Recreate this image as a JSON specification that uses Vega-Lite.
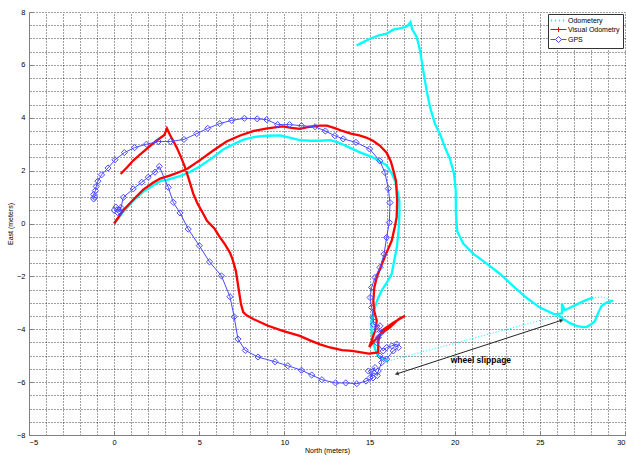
{
  "$schema": "https://vega.github.io/schema/vega-lite/v6.json",
  "width": 596,
  "height": 423,
  "autosize": {"type": "none"},
  "padding": {"left": 29, "top": 12, "right": 1, "bottom": 20},
  "background": "white",
  "datasets": {
    "track": [
      {"s":"Odometery","g":"a","k":"d","x":0,"y":0},
      {"s":"Odometery","g":"a","k":"d","x":0.54,"y":0.45},
      {"s":"Odometery","g":"a","k":"d","x":1.12,"y":0.85},
      {"s":"Odometery","g":"a","k":"d","x":1.71,"y":1.2},
      {"s":"Odometery","g":"a","k":"d","x":2.3,"y":1.45},
      {"s":"Odometery","g":"a","k":"d","x":2.7,"y":1.6},
      {"s":"Odometery","g":"a","k":"d","x":3.1,"y":1.65},
      {"s":"Odometery","g":"a","k":"d","x":3.8,"y":1.78},
      {"s":"Odometery","g":"a","k":"d","x":4.3,"y":1.9},
      {"s":"Odometery","g":"a","k":"d","x":5.0,"y":2.15},
      {"s":"Odometery","g":"a","k":"d","x":5.8,"y":2.5},
      {"s":"Odometery","g":"a","k":"d","x":6.4,"y":2.8},
      {"s":"Odometery","g":"a","k":"d","x":7.0,"y":3.0},
      {"s":"Odometery","g":"a","k":"d","x":7.6,"y":3.17},
      {"s":"Odometery","g":"a","k":"d","x":8.2,"y":3.27},
      {"s":"Odometery","g":"a","k":"d","x":9.0,"y":3.32},
      {"s":"Odometery","g":"a","k":"d","x":9.74,"y":3.33},
      {"s":"Odometery","g":"a","k":"d","x":10.3,"y":3.25},
      {"s":"Odometery","g":"a","k":"d","x":10.9,"y":3.15},
      {"s":"Odometery","g":"a","k":"d","x":11.5,"y":3.13},
      {"s":"Odometery","g":"a","k":"d","x":12.1,"y":3.13},
      {"s":"Odometery","g":"a","k":"d","x":12.7,"y":3.15},
      {"s":"Odometery","g":"a","k":"d","x":13.1,"y":3.08},
      {"s":"Odometery","g":"a","k":"d","x":13.4,"y":3.0},
      {"s":"Odometery","g":"a","k":"d","x":13.9,"y":2.85},
      {"s":"Odometery","g":"a","k":"d","x":14.4,"y":2.7},
      {"s":"Odometery","g":"a","k":"d","x":15.2,"y":2.5},
      {"s":"Odometery","g":"a","k":"d","x":15.6,"y":2.35},
      {"s":"Odometery","g":"a","k":"d","x":16.0,"y":2.2},
      {"s":"Odometery","g":"a","k":"d","x":16.3,"y":1.9},
      {"s":"Odometery","g":"a","k":"d","x":16.5,"y":1.6},
      {"s":"Odometery","g":"a","k":"d","x":16.65,"y":1.2},
      {"s":"Odometery","g":"a","k":"d","x":16.75,"y":0.86},
      {"s":"Odometery","g":"a","k":"d","x":16.75,"y":0.3},
      {"s":"Odometery","g":"a","k":"d","x":16.7,"y":-0.3},
      {"s":"Odometery","g":"a","k":"d","x":16.6,"y":-0.9},
      {"s":"Odometery","g":"a","k":"d","x":16.45,"y":-1.4},
      {"s":"Odometery","g":"a","k":"d","x":16.3,"y":-1.9},
      {"s":"Odometery","g":"a","k":"d","x":16.0,"y":-2.25},
      {"s":"Odometery","g":"a","k":"d","x":15.7,"y":-2.55},
      {"s":"Odometery","g":"a","k":"d","x":15.45,"y":-2.9},
      {"s":"Odometery","g":"a","k":"d","x":15.3,"y":-3.2},
      {"s":"Odometery","g":"a","k":"d","x":15.15,"y":-3.5},
      {"s":"Odometery","g":"a","k":"d","x":15.1,"y":-3.8},
      {"s":"Odometery","g":"a","k":"d","x":15.15,"y":-4.3},
      {"s":"Odometery","g":"a","k":"d","x":15.3,"y":-4.7},
      {"s":"Odometery","g":"a","k":"d","x":15.45,"y":-4.95},
      {"s":"Odometery","g":"a","k":"d","x":15.7,"y":-5.1},
      {"s":"Odometery","g":"a","k":"d","x":16.1,"y":-5.2},
      {"s":"Odometery","g":"b","k":"s","x":16.1,"y":-5.2},
      {"s":"Odometery","g":"b","k":"s","x":26.1,"y":-3.48},
      {"s":"Odometery","g":"c","k":"d","x":26.1,"y":-3.48},
      {"s":"Odometery","g":"c","k":"d","x":26.4,"y":-3.62},
      {"s":"Odometery","g":"c","k":"d","x":26.8,"y":-3.78},
      {"s":"Odometery","g":"c","k":"d","x":27.16,"y":-3.87},
      {"s":"Odometery","g":"c","k":"d","x":27.5,"y":-3.92},
      {"s":"Odometery","g":"c","k":"d","x":27.75,"y":-3.91},
      {"s":"Odometery","g":"c","k":"d","x":28.0,"y":-3.82},
      {"s":"Odometery","g":"c","k":"d","x":28.24,"y":-3.68},
      {"s":"Odometery","g":"c","k":"d","x":28.43,"y":-3.37},
      {"s":"Odometery","g":"c","k":"d","x":28.63,"y":-3.11},
      {"s":"Odometery","g":"c","k":"d","x":28.92,"y":-2.99},
      {"s":"Odometery","g":"c","k":"d","x":29.31,"y":-2.92},
      {"s":"Odometery","g":"d","k":"s","x":29.31,"y":-2.92},
      {"s":"Odometery","g":"d","k":"s","x":28.7,"y":-2.78},
      {"s":"Odometery","g":"d","k":"s","x":28.14,"y":-2.8},
      {"s":"Odometery","g":"e","k":"d","x":28.14,"y":-2.8},
      {"s":"Odometery","g":"e","k":"d","x":27.7,"y":-2.9},
      {"s":"Odometery","g":"e","k":"d","x":27.2,"y":-3.05},
      {"s":"Odometery","g":"e","k":"d","x":26.8,"y":-3.18},
      {"s":"Odometery","g":"e","k":"d","x":26.45,"y":-3.28},
      {"s":"Odometery","g":"e","k":"d","x":26.3,"y":-3.02},
      {"s":"Odometery","g":"e","k":"d","x":26.3,"y":-3.4},
      {"s":"Odometery","g":"e","k":"d","x":26.0,"y":-3.43},
      {"s":"Odometery","g":"e","k":"d","x":25.8,"y":-3.42},
      {"s":"Odometery","g":"e","k":"d","x":25.0,"y":-3.18},
      {"s":"Odometery","g":"e","k":"d","x":24.2,"y":-2.8},
      {"s":"Odometery","g":"e","k":"d","x":23.4,"y":-2.35},
      {"s":"Odometery","g":"e","k":"d","x":22.65,"y":-1.9},
      {"s":"Odometery","g":"e","k":"d","x":21.9,"y":-1.53},
      {"s":"Odometery","g":"e","k":"d","x":21.1,"y":-1.15},
      {"s":"Odometery","g":"e","k":"d","x":20.5,"y":-0.76},
      {"s":"Odometery","g":"e","k":"d","x":20.15,"y":-0.3},
      {"s":"Odometery","g":"e","k":"d","x":20.07,"y":0.36},
      {"s":"Odometery","g":"e","k":"d","x":20.06,"y":1.24},
      {"s":"Odometery","g":"e","k":"d","x":19.96,"y":1.88},
      {"s":"Odometery","g":"e","k":"d","x":19.72,"y":2.44},
      {"s":"Odometery","g":"e","k":"d","x":19.43,"y":2.88},
      {"s":"Odometery","g":"e","k":"d","x":19.13,"y":3.39},
      {"s":"Odometery","g":"e","k":"d","x":18.84,"y":3.77},
      {"s":"Odometery","g":"e","k":"d","x":18.55,"y":4.4},
      {"s":"Odometery","g":"e","k":"d","x":18.35,"y":5.03},
      {"s":"Odometery","g":"e","k":"d","x":18.15,"y":5.79},
      {"s":"Odometery","g":"e","k":"d","x":17.96,"y":6.55},
      {"s":"Odometery","g":"e","k":"d","x":17.77,"y":7.05},
      {"s":"Odometery","g":"e","k":"d","x":17.5,"y":7.35},
      {"s":"Odometery","g":"e","k":"d","x":17.4,"y":7.62},
      {"s":"Odometery","g":"e","k":"d","x":17.2,"y":7.45},
      {"s":"Odometery","g":"e","k":"d","x":16.78,"y":7.38},
      {"s":"Odometery","g":"e","k":"d","x":16.39,"y":7.33},
      {"s":"Odometery","g":"e","k":"d","x":16.0,"y":7.18},
      {"s":"Odometery","g":"e","k":"d","x":15.51,"y":7.11},
      {"s":"Odometery","g":"e","k":"d","x":15.02,"y":6.99},
      {"s":"Odometery","g":"e","k":"d","x":14.63,"y":6.86},
      {"s":"Odometery","g":"e","k":"d","x":14.24,"y":6.73},
      {"s":"Visual Odometry","g":"v","k":"d","x":0,"y":0},
      {"s":"Visual Odometry","g":"v","k":"d","x":0.54,"y":0.5},
      {"s":"Visual Odometry","g":"v","k":"d","x":1.12,"y":0.9},
      {"s":"Visual Odometry","g":"v","k":"d","x":1.71,"y":1.28},
      {"s":"Visual Odometry","g":"v","k":"d","x":2.3,"y":1.55},
      {"s":"Visual Odometry","g":"v","k":"d","x":2.7,"y":1.7},
      {"s":"Visual Odometry","g":"v","k":"d","x":3.3,"y":1.82},
      {"s":"Visual Odometry","g":"v","k":"d","x":3.8,"y":1.94},
      {"s":"Visual Odometry","g":"v","k":"d","x":4.3,"y":2.07},
      {"s":"Visual Odometry","g":"v","k":"d","x":5.0,"y":2.38},
      {"s":"Visual Odometry","g":"v","k":"d","x":5.8,"y":2.75},
      {"s":"Visual Odometry","g":"v","k":"d","x":6.6,"y":3.1},
      {"s":"Visual Odometry","g":"v","k":"d","x":7.4,"y":3.33},
      {"s":"Visual Odometry","g":"v","k":"d","x":8.2,"y":3.5},
      {"s":"Visual Odometry","g":"v","k":"d","x":9.0,"y":3.6},
      {"s":"Visual Odometry","g":"v","k":"d","x":9.9,"y":3.67},
      {"s":"Visual Odometry","g":"v","k":"d","x":10.4,"y":3.62},
      {"s":"Visual Odometry","g":"v","k":"d","x":10.9,"y":3.58},
      {"s":"Visual Odometry","g":"v","k":"d","x":11.5,"y":3.66},
      {"s":"Visual Odometry","g":"v","k":"d","x":12.1,"y":3.7},
      {"s":"Visual Odometry","g":"v","k":"d","x":12.5,"y":3.7},
      {"s":"Visual Odometry","g":"v","k":"d","x":13.0,"y":3.6},
      {"s":"Visual Odometry","g":"v","k":"d","x":13.4,"y":3.5},
      {"s":"Visual Odometry","g":"v","k":"d","x":13.9,"y":3.4},
      {"s":"Visual Odometry","g":"v","k":"d","x":14.4,"y":3.33},
      {"s":"Visual Odometry","g":"v","k":"d","x":14.8,"y":3.25},
      {"s":"Visual Odometry","g":"v","k":"d","x":15.2,"y":3.13},
      {"s":"Visual Odometry","g":"v","k":"d","x":15.6,"y":2.95},
      {"s":"Visual Odometry","g":"v","k":"d","x":16.0,"y":2.68},
      {"s":"Visual Odometry","g":"v","k":"d","x":16.25,"y":2.35},
      {"s":"Visual Odometry","g":"v","k":"d","x":16.4,"y":2.0},
      {"s":"Visual Odometry","g":"v","k":"d","x":16.55,"y":1.62},
      {"s":"Visual Odometry","g":"v","k":"d","x":16.62,"y":0.86},
      {"s":"Visual Odometry","g":"v","k":"d","x":16.59,"y":0.23},
      {"s":"Visual Odometry","g":"v","k":"d","x":16.49,"y":-0.1},
      {"s":"Visual Odometry","g":"v","k":"d","x":16.3,"y":-0.65},
      {"s":"Visual Odometry","g":"v","k":"d","x":15.96,"y":-1.16},
      {"s":"Visual Odometry","g":"v","k":"d","x":15.65,"y":-1.66},
      {"s":"Visual Odometry","g":"v","k":"d","x":15.42,"y":-2.04},
      {"s":"Visual Odometry","g":"v","k":"d","x":15.28,"y":-2.42},
      {"s":"Visual Odometry","g":"v","k":"d","x":15.22,"y":-2.92},
      {"s":"Visual Odometry","g":"v","k":"d","x":15.27,"y":-3.3},
      {"s":"Visual Odometry","g":"v","k":"d","x":15.42,"y":-3.68},
      {"s":"Visual Odometry","g":"v","k":"d","x":15.32,"y":-4.06},
      {"s":"Visual Odometry","g":"v","k":"d","x":15.12,"y":-4.44},
      {"s":"Visual Odometry","g":"v","k":"d","x":14.98,"y":-4.67},
      {"s":"Visual Odometry","g":"v","k":"d","x":15.61,"y":-4.19},
      {"s":"Visual Odometry","g":"v","k":"d","x":16.2,"y":-3.93},
      {"s":"Visual Odometry","g":"v","k":"d","x":16.7,"y":-3.62},
      {"s":"Visual Odometry","g":"v","k":"d","x":17.08,"y":-3.49},
      {"s":"Visual Odometry","g":"v","k":"d","x":16.39,"y":-3.75},
      {"s":"Visual Odometry","g":"v","k":"d","x":15.71,"y":-4.06},
      {"s":"Visual Odometry","g":"v","k":"d","x":15.51,"y":-4.44},
      {"s":"Visual Odometry","g":"v","k":"d","x":15.51,"y":-4.88},
      {"s":"Visual Odometry","g":"v","k":"d","x":14.95,"y":-4.92},
      {"s":"Visual Odometry","g":"v","k":"d","x":13.97,"y":-4.82},
      {"s":"Visual Odometry","g":"v","k":"d","x":13.38,"y":-4.79},
      {"s":"Visual Odometry","g":"v","k":"d","x":12.67,"y":-4.69},
      {"s":"Visual Odometry","g":"v","k":"d","x":12.09,"y":-4.57},
      {"s":"Visual Odometry","g":"v","k":"d","x":11.5,"y":-4.42},
      {"s":"Visual Odometry","g":"v","k":"d","x":10.9,"y":-4.25},
      {"s":"Visual Odometry","g":"v","k":"d","x":9.9,"y":-4.06},
      {"s":"Visual Odometry","g":"v","k":"d","x":9.0,"y":-3.86},
      {"s":"Visual Odometry","g":"v","k":"d","x":8.2,"y":-3.62},
      {"s":"Visual Odometry","g":"v","k":"d","x":7.8,"y":-3.48},
      {"s":"Visual Odometry","g":"v","k":"d","x":7.58,"y":-3.35},
      {"s":"Visual Odometry","g":"v","k":"d","x":7.45,"y":-3.05},
      {"s":"Visual Odometry","g":"v","k":"d","x":7.3,"y":-2.43},
      {"s":"Visual Odometry","g":"v","k":"d","x":7.15,"y":-1.8},
      {"s":"Visual Odometry","g":"v","k":"d","x":6.95,"y":-1.35},
      {"s":"Visual Odometry","g":"v","k":"d","x":6.8,"y":-1.1},
      {"s":"Visual Odometry","g":"v","k":"d","x":6.5,"y":-0.78},
      {"s":"Visual Odometry","g":"v","k":"d","x":6.22,"y":-0.53},
      {"s":"Visual Odometry","g":"v","k":"d","x":5.9,"y":-0.2},
      {"s":"Visual Odometry","g":"v","k":"d","x":5.45,"y":0.1},
      {"s":"Visual Odometry","g":"v","k":"d","x":5.24,"y":0.36},
      {"s":"Visual Odometry","g":"v","k":"d","x":4.9,"y":0.75},
      {"s":"Visual Odometry","g":"v","k":"d","x":4.65,"y":1.12},
      {"s":"Visual Odometry","g":"v","k":"d","x":4.4,"y":1.65},
      {"s":"Visual Odometry","g":"v","k":"d","x":4.16,"y":2.13},
      {"s":"Visual Odometry","g":"v","k":"d","x":3.9,"y":2.55},
      {"s":"Visual Odometry","g":"v","k":"d","x":3.67,"y":2.88},
      {"s":"Visual Odometry","g":"v","k":"d","x":3.45,"y":3.15},
      {"s":"Visual Odometry","g":"v","k":"d","x":3.28,"y":3.35},
      {"s":"Visual Odometry","g":"v","k":"d","x":3.1,"y":3.6},
      {"s":"Visual Odometry","g":"v","k":"d","x":2.95,"y":3.35},
      {"s":"Visual Odometry","g":"v","k":"d","x":2.5,"y":3.14},
      {"s":"Visual Odometry","g":"v","k":"d","x":1.91,"y":2.82},
      {"s":"Visual Odometry","g":"v","k":"d","x":1.5,"y":2.6},
      {"s":"Visual Odometry","g":"v","k":"d","x":1.12,"y":2.38},
      {"s":"Visual Odometry","g":"v","k":"d","x":0.75,"y":2.12},
      {"s":"Visual Odometry","g":"v","k":"d","x":0.38,"y":1.87},
      {"s":"GPS","g":"p","k":"d","x":0.0,"y":0.5},
      {"s":"GPS","g":"p","k":"d","x":0.2,"y":0.42},
      {"s":"GPS","g":"p","k":"d","x":0.4,"y":0.6},
      {"s":"GPS","g":"p","k":"d","x":0.1,"y":0.62},
      {"s":"GPS","g":"p","k":"d","x":0.35,"y":0.45},
      {"s":"GPS","g":"p","k":"d","x":0.54,"y":0.99},
      {"s":"GPS","g":"p","k":"d","x":1.12,"y":1.31},
      {"s":"GPS","g":"p","k":"d","x":1.62,"y":1.56},
      {"s":"GPS","g":"p","k":"d","x":2.0,"y":1.75},
      {"s":"GPS","g":"p","k":"d","x":2.4,"y":1.94},
      {"s":"GPS","g":"p","k":"d","x":2.65,"y":2.16},
      {"s":"GPS","g":"p","k":"d","x":3.18,"y":1.37},
      {"s":"GPS","g":"p","k":"d","x":3.47,"y":0.8},
      {"s":"GPS","g":"p","k":"d","x":3.87,"y":0.4},
      {"s":"GPS","g":"p","k":"d","x":4.35,"y":-0.21},
      {"s":"GPS","g":"p","k":"d","x":5.0,"y":-0.84},
      {"s":"GPS","g":"p","k":"d","x":5.6,"y":-1.45},
      {"s":"GPS","g":"p","k":"d","x":6.3,"y":-1.98},
      {"s":"GPS","g":"p","k":"d","x":6.8,"y":-2.77},
      {"s":"GPS","g":"p","k":"d","x":7.05,"y":-3.53},
      {"s":"GPS","g":"p","k":"d","x":7.27,"y":-4.37},
      {"s":"GPS","g":"p","k":"d","x":7.7,"y":-4.8},
      {"s":"GPS","g":"p","k":"d","x":8.45,"y":-5.05},
      {"s":"GPS","g":"p","k":"d","x":9.45,"y":-5.23},
      {"s":"GPS","g":"p","k":"d","x":10.2,"y":-5.38},
      {"s":"GPS","g":"p","k":"d","x":11.0,"y":-5.55},
      {"s":"GPS","g":"p","k":"d","x":11.6,"y":-5.73},
      {"s":"GPS","g":"p","k":"d","x":12.2,"y":-5.91},
      {"s":"GPS","g":"p","k":"d","x":13.0,"y":-6.03},
      {"s":"GPS","g":"p","k":"d","x":13.6,"y":-6.03},
      {"s":"GPS","g":"p","k":"d","x":14.25,"y":-6.06},
      {"s":"GPS","g":"p","k":"d","x":14.8,"y":-5.96},
      {"s":"GPS","g":"p","k":"d","x":15.2,"y":-5.84},
      {"s":"GPS","g":"p","k":"d","x":14.93,"y":-5.58},
      {"s":"GPS","g":"p","k":"d","x":15.32,"y":-5.45},
      {"s":"GPS","g":"p","k":"d","x":15.03,"y":-5.83},
      {"s":"GPS","g":"p","k":"d","x":15.25,"y":-5.65},
      {"s":"GPS","g":"p","k":"d","x":15.45,"y":-5.75},
      {"s":"GPS","g":"p","k":"d","x":15.51,"y":-5.58},
      {"s":"GPS","g":"p","k":"d","x":15.71,"y":-5.26},
      {"s":"GPS","g":"p","k":"d","x":15.61,"y":-5.01},
      {"s":"GPS","g":"p","k":"d","x":16.0,"y":-5.13},
      {"s":"GPS","g":"p","k":"d","x":16.39,"y":-4.82},
      {"s":"GPS","g":"p","k":"d","x":16.69,"y":-4.69},
      {"s":"GPS","g":"p","k":"d","x":16.59,"y":-4.56},
      {"s":"GPS","g":"p","k":"d","x":16.3,"y":-4.63},
      {"s":"GPS","g":"p","k":"d","x":16.0,"y":-4.69},
      {"s":"GPS","g":"p","k":"d","x":15.8,"y":-4.82},
      {"s":"GPS","g":"p","k":"d","x":15.42,"y":-4.5},
      {"s":"GPS","g":"p","k":"d","x":15.51,"y":-4.31},
      {"s":"GPS","g":"p","k":"d","x":15.71,"y":-4.12},
      {"s":"GPS","g":"p","k":"d","x":15.42,"y":-4.0},
      {"s":"GPS","g":"p","k":"d","x":15.61,"y":-3.87},
      {"s":"GPS","g":"p","k":"d","x":15.22,"y":-3.81},
      {"s":"GPS","g":"p","k":"d","x":15.22,"y":-3.56},
      {"s":"GPS","g":"p","k":"d","x":15.12,"y":-3.18},
      {"s":"GPS","g":"p","k":"d","x":15.03,"y":-2.8},
      {"s":"GPS","g":"p","k":"d","x":15.12,"y":-2.42},
      {"s":"GPS","g":"p","k":"d","x":15.32,"y":-2.04},
      {"s":"GPS","g":"p","k":"d","x":15.61,"y":-1.66},
      {"s":"GPS","g":"p","k":"d","x":15.85,"y":-1.16},
      {"s":"GPS","g":"p","k":"d","x":16.0,"y":-0.53},
      {"s":"GPS","g":"p","k":"d","x":16.16,"y":0.04},
      {"s":"GPS","g":"p","k":"d","x":16.2,"y":0.79},
      {"s":"GPS","g":"p","k":"d","x":16.1,"y":1.32},
      {"s":"GPS","g":"p","k":"d","x":15.9,"y":1.93},
      {"s":"GPS","g":"p","k":"d","x":15.6,"y":2.37},
      {"s":"GPS","g":"p","k":"d","x":15.0,"y":2.82},
      {"s":"GPS","g":"p","k":"d","x":14.2,"y":3.07},
      {"s":"GPS","g":"p","k":"d","x":13.45,"y":3.2},
      {"s":"GPS","g":"p","k":"d","x":12.96,"y":3.32},
      {"s":"GPS","g":"p","k":"d","x":12.4,"y":3.5},
      {"s":"GPS","g":"p","k":"d","x":11.8,"y":3.66},
      {"s":"GPS","g":"p","k":"d","x":11.0,"y":3.7},
      {"s":"GPS","g":"p","k":"d","x":10.3,"y":3.74},
      {"s":"GPS","g":"p","k":"d","x":9.6,"y":3.74},
      {"s":"GPS","g":"p","k":"d","x":8.96,"y":3.93},
      {"s":"GPS","g":"p","k":"d","x":8.4,"y":3.96},
      {"s":"GPS","g":"p","k":"d","x":7.65,"y":3.98},
      {"s":"GPS","g":"p","k":"d","x":6.9,"y":3.9},
      {"s":"GPS","g":"p","k":"d","x":6.2,"y":3.78},
      {"s":"GPS","g":"p","k":"d","x":5.5,"y":3.6},
      {"s":"GPS","g":"p","k":"d","x":4.85,"y":3.4},
      {"s":"GPS","g":"p","k":"d","x":4.1,"y":3.18},
      {"s":"GPS","g":"p","k":"d","x":3.3,"y":3.1},
      {"s":"GPS","g":"p","k":"d","x":2.6,"y":3.1},
      {"s":"GPS","g":"p","k":"d","x":1.9,"y":3.0},
      {"s":"GPS","g":"p","k":"d","x":1.2,"y":2.87},
      {"s":"GPS","g":"p","k":"d","x":0.6,"y":2.68},
      {"s":"GPS","g":"p","k":"d","x":0.05,"y":2.41},
      {"s":"GPS","g":"p","k":"d","x":-0.36,"y":2.1},
      {"s":"GPS","g":"p","k":"d","x":-0.74,"y":1.84},
      {"s":"GPS","g":"p","k":"d","x":-0.95,"y":1.6},
      {"s":"GPS","g":"p","k":"d","x":-1.05,"y":1.4},
      {"s":"GPS","g":"p","k":"d","x":-1.1,"y":1.24},
      {"s":"GPS","g":"p","k":"d","x":-1.2,"y":1.1},
      {"s":"GPS","g":"p","k":"d","x":-1.15,"y":1.0},
      {"s":"GPS","g":"p","k":"d","x":-1.2,"y":0.93}
    ],
    "note": [
      {"x1": 16.59, "y1": -5.69, "x2": 26.28, "y2": -3.66, "tx": 19.76, "ty": -5.16, "label": "wheel slippage"}
    ]
  },
  "encoding": {
    "color": {
      "field": "s",
      "type": "nominal",
      "scale": {"domain": ["Odometery", "Visual Odometry", "GPS"], "range": ["#00ffff", "#ff0000", "#4a4aff"]},
      "legend": {
        "title": null,
        "orient": "top-right",
        "offset": 2,
        "padding": 3,
        "strokeColor": "#333333",
        "fillColor": "#ffffff",
        "labelFont": "Liberation Sans",
        "labelFontSize": 7,
        "labelColor": "#000000",
        "symbolSize": 64,
        "symbolOffset": 4,
        "labelOffset": 6,
        "rowPadding": 0,
        "symbolType": "stroke",
        "encode": {
          "symbols": {
            "update": {
              "shape": {"signal": "datum.value === 'GPS' ? 'M-2,0H-0.75M0.75,0H2M0,-0.75L0.75,0L0,0.75L-0.75,0Z' : datum.value === 'Visual Odometry' ? 'M-2,0H2M0,-0.6V0.6' : 'M-1.9,0H-1.6M-0.9,0H-0.6M0.1,0H0.4M1.1,0H1.4'"},
              "strokeWidth": {"signal": "datum.value === 'Odometery' ? 2 : 1"},
              "fill": {"value": "transparent"}
            }
          }
        }
      }
    }
  },
  "layer": [
    {
      "data": {"name": "track"},
      "transform": [{"filter": "datum.s === 'Odometery' && datum.k === 'd'"}],
      "mark": {"type": "line", "strokeWidth": 2.3, "clip": true},
      "encoding": {
        "x": {"field": "x", "type": "quantitative", "scale": {"domain": [-5, 30], "nice": false, "zero": false},
          "axis": {"orient": "top", "values": [-5,-4,-3,-2,-1,0,1,2,3,4,5,6,7,8,9,10,11,12,13,14,15,16,17,18,19,20,21,22,23,24,25,26,27,28,29,30], "grid": true, "labels": false, "ticks": false, "domain": false, "title": null, "gridColor": "#000000", "gridDash": [1, 2], "gridOpacity": 0.75}},
        "y": {"field": "y", "type": "quantitative", "scale": {"domain": [-8, 8], "nice": false, "zero": false},
          "axis": {"orient": "right", "values": [-8,-7.5,-7,-6.5,-6,-5.5,-5,-4.5,-4,-3.5,-3,-2.5,-2,-1.5,-1,-0.5,0,0.5,1,1.5,2,2.5,3,3.5,4,4.5,5,5.5,6,6.5,7,7.5,8], "grid": true, "labels": false, "ticks": false, "domain": false, "title": null, "gridColor": "#000000", "gridDash": [1, 2], "gridOpacity": 0.75}},
        "detail": {"field": "g"},
        "order": {"value": null}
      }
    },
    {
      "data": {"name": "track"},
      "transform": [{"filter": "datum.s === 'Odometery' && datum.k === 's'"}],
      "mark": {"type": "line", "strokeWidth": 1, "strokeDash": [1, 2], "clip": true},
      "encoding": {
        "x": {"field": "x", "type": "quantitative", "scale": {"domain": [-5, 30], "nice": false, "zero": false}, "axis": null},
        "y": {"field": "y", "type": "quantitative", "scale": {"domain": [-8, 8], "nice": false, "zero": false}, "axis": null},
        "detail": {"field": "g"},
        "order": {"value": null}
      }
    },
    {
      "data": {"name": "track"},
      "transform": [{"filter": "datum.s === 'Visual Odometry'"}],
      "mark": {"type": "line", "strokeWidth": 2.3, "clip": true},
      "encoding": {
        "x": {"field": "x", "type": "quantitative", "scale": {"domain": [-5, 30], "nice": false, "zero": false},
          "axis": {"orient": "bottom", "values": [-5, 0, 5, 10, 15, 20, 25, 30], "grid": false, "title": "North (meters)", "tickSize": -4, "labelPadding": 7, "titlePadding": 1, "domainColor": "#808080", "tickColor": "#808080"}},
        "y": {"field": "y", "type": "quantitative", "scale": {"domain": [-8, 8], "nice": false, "zero": false},
          "axis": {"orient": "left", "values": [-8, -6, -4, -2, 0, 2, 4, 6, 8], "grid": false, "title": "East (meters)", "tickSize": -4, "labelPadding": 8, "titlePadding": 3, "domainColor": "#808080", "tickColor": "#808080"}},
        "order": {"value": null}
      }
    },
    {
      "data": {"name": "track"},
      "transform": [{"filter": "datum.s === 'GPS'"}],
      "mark": {"type": "line", "strokeWidth": 1, "clip": true},
      "encoding": {
        "x": {"field": "x", "type": "quantitative", "scale": {"domain": [-5, 30], "nice": false, "zero": false}, "axis": null},
        "y": {"field": "y", "type": "quantitative", "scale": {"domain": [-8, 8], "nice": false, "zero": false}, "axis": null},
        "order": {"value": null}
      }
    },
    {
      "data": {"name": "track"},
      "transform": [{"filter": "datum.s === 'GPS'"}],
      "mark": {"type": "point", "shape": "diamond", "filled": false, "size": 38, "strokeWidth": 1, "opacity": 1},
      "encoding": {
        "x": {"field": "x", "type": "quantitative", "scale": {"domain": [-5, 30], "nice": false, "zero": false}, "axis": null},
        "y": {"field": "y", "type": "quantitative", "scale": {"domain": [-8, 8], "nice": false, "zero": false}, "axis": null}
      }
    },
    {
      "data": {"name": "note"},
      "mark": {"type": "rule", "strokeWidth": 1},
      "encoding": {
        "x": {"field": "x1", "type": "quantitative", "scale": {"domain": [-5, 30], "nice": false, "zero": false}, "axis": null},
        "y": {"field": "y1", "type": "quantitative", "scale": {"domain": [-8, 8], "nice": false, "zero": false}, "axis": null},
        "x2": {"field": "x2"},
        "y2": {"field": "y2"},
        "color": {"value": "#222222"}
      }
    },
    {
      "data": {"name": "note"},
      "mark": {"type": "point", "shape": "triangle-right", "filled": true, "size": 22, "angle": -17.8},
      "encoding": {
        "x": {"field": "x2", "type": "quantitative", "scale": {"domain": [-5, 30], "nice": false, "zero": false}, "axis": null},
        "y": {"field": "y2", "type": "quantitative", "scale": {"domain": [-8, 8], "nice": false, "zero": false}, "axis": null},
        "color": {"value": "#111111"}
      }
    },
    {
      "data": {"name": "note"},
      "mark": {"type": "point", "shape": "triangle-left", "filled": true, "size": 22, "angle": -17.8},
      "encoding": {
        "x": {"field": "x1", "type": "quantitative", "scale": {"domain": [-5, 30], "nice": false, "zero": false}, "axis": null},
        "y": {"field": "y1", "type": "quantitative", "scale": {"domain": [-8, 8], "nice": false, "zero": false}, "axis": null},
        "color": {"value": "#111111"}
      }
    },
    {
      "data": {"name": "note"},
      "mark": {"type": "text", "align": "left", "baseline": "middle", "font": "Liberation Sans", "fontSize": 8.5, "fontWeight": "bold"},
      "encoding": {
        "x": {"field": "tx", "type": "quantitative", "scale": {"domain": [-5, 30], "nice": false, "zero": false}, "axis": null},
        "y": {"field": "ty", "type": "quantitative", "scale": {"domain": [-8, 8], "nice": false, "zero": false}, "axis": null},
        "text": {"field": "label"},
        "color": {"value": "#000000"}
      }
    }
  ],
  "resolve": {"axis": {"x": "independent", "y": "independent"}},
  "config": {
    "view": {"stroke": null},
    "axis": {"labelFont": "Liberation Sans", "titleFont": "Liberation Sans", "labelFontSize": 7.5, "titleFontSize": 7, "titleFontWeight": "normal", "labelColor": "#000000", "titleColor": "#000000", "domainColor": "#808080", "tickColor": "#808080"}
  }
}
